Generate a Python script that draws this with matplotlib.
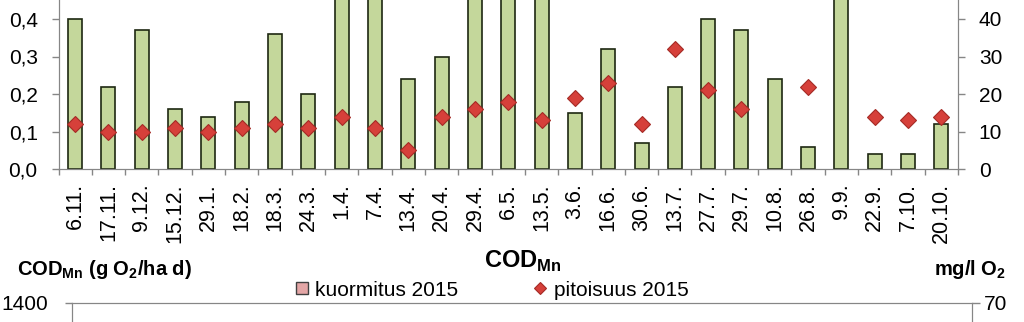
import numpy as np
import matplotlib.pyplot as plt
from matplotlib.lines import Line2D
from matplotlib.ticker import FuncFormatter

plt.rcParams['font.family'] = 'Liberation Sans'
plt.rcParams['mathtext.fontset'] = 'custom'
plt.rcParams['mathtext.rm'] = 'Liberation Sans'
plt.rcParams['mathtext.bf'] = 'Liberation Sans:bold'

# sampling dates 2014-2015
dates = ['6.11.', '17.11.', '9.12.', '15.12.', '29.1.', '18.2.', '18.3.', '24.3.',
         '1.4.', '7.4.', '13.4.', '20.4.', '29.4.', '6.5.', '13.5.', '3.6.',
         '16.6.', '30.6.', '13.7.', '27.7.', '29.7.', '10.8.', '26.8.', '9.9.',
         '22.9.', '7.10.', '20.10.']

# upper panel: load (left axis) and concentration (right axis)
load_upper = [0.40, 0.22, 0.37, 0.16, 0.14, 0.18, 0.36, 0.20,
              0.62, 0.55, 0.24, 0.30, 0.71, 0.83, 0.58, 0.15,
              0.32, 0.07, 0.22, 0.40, 0.37, 0.24, 0.06, 0.66,
              0.04, 0.04, 0.12]
conc_upper = [12, 10, 10, 11, 10, 11, 12, 11,
              14, 11, 5, 14, 16, 18, 13, 19,
              23, 12, 32, 21, 16, np.nan, 22, np.nan,
              14, 13, 14]
upper_left_ticks = [0.0, 0.1, 0.2, 0.3, 0.4]
upper_right_ticks = [0, 10, 20, 30, 40]

# lower panel (COD_Mn), only the top of its scales is shown
lower_left_ticks = [1400]
lower_right_ticks = [70]
legend_labels = ['kuormitus 2015', 'pitoisuus 2015']

GRAY = '#868686'
BAR_GREEN = '#C4D79B'
DIAMOND_RED = '#D6403A'
LOAD_PINK = '#E4A6A6'

W, H = 1024, 322
fig = plt.figure(figsize=(W / 100, H / 100), dpi=100)


def comma(v, pos):
    return f'{v:.1f}'.replace('.', ',')


# upper chart, its top part runs past the figure edge
ax = fig.add_axes([58.5 / W, 1 - 169 / H, 899.5 / W, 187.5 / H])
x = np.arange(len(dates))
ax.bar(x, load_upper, width=0.42, color=BAR_GREEN, edgecolor='#1E2812',
       linewidth=1.2, zorder=2)
ax.set_xlim(-0.5, len(dates) - 0.5)
ax.set_ylim(0, 0.5)
ax.set_yticks(upper_left_ticks)
ax.yaxis.set_major_formatter(FuncFormatter(comma))
ax.set_xticks(x)
ax.set_xticklabels(dates, rotation=90)
ax.set_xticks(np.arange(-0.5, len(dates)), minor=True)
ax.tick_params(axis='x', which='major', length=0, pad=10, labelsize=15.5)
ax.tick_params(axis='x', which='minor', length=4, color=GRAY, width=1)
ax.tick_params(axis='y', length=5, color=GRAY, width=1, pad=10, labelsize=15)
ax.spines['top'].set_visible(False)
for s in ['left', 'bottom', 'right']:
    ax.spines[s].set_color(GRAY)

ax2 = ax.twinx()
ax2.plot(x, conc_upper, ls='none', marker='D', ms=8, mfc=DIAMOND_RED,
         mec='#A52A25', mew=0.8, zorder=3)
ax2.set_ylim(0, 50)
ax2.set_yticks(upper_right_ticks)
ax2.tick_params(axis='y', length=5, color=GRAY, width=1, pad=10, labelsize=15)
ax2.spines['top'].set_visible(False)
for s in ['left', 'bottom', 'right']:
    ax2.spines[s].set_color(GRAY)

# lower chart, only its top edge fits in the figure
bx = fig.add_axes([72 / W, -1.0, 899.5 / W, 1.0 + (1 - 302.7 / H)])
bx.set_ylim(0, 1400)
bx.set_yticks(lower_left_ticks)
bx.set_xticks([])
bx.tick_params(axis='y', length=5, color=GRAY, width=1, pad=12, labelsize=15)
for s in bx.spines.values():
    s.set_color(GRAY)

bx2 = bx.twinx()
bx2.set_ylim(0, 70)
bx2.set_yticks(lower_right_ticks)
bx2.tick_params(axis='y', length=6, color=GRAY, width=1, pad=3, labelsize=15)
for s in bx2.spines.values():
    s.set_color(GRAY)

fig.text(523 / W, 1 - 268 / H, r'COD$_{\mathbf{Mn}}$', ha='center',
         va='baseline', fontsize=17, fontweight='bold')
fig.text(17 / W, 1 - 275 / H, r'COD$_{\mathbf{Mn}}$ (g O$_{\mathbf{2}}$/ha d)',
         ha='left', va='baseline', fontsize=14.5, fontweight='bold')
fig.text(1006 / W, 1 - 275 / H, r'mg/l O$_{\mathbf{2}}$', ha='right',
         va='baseline', fontsize=14.5, fontweight='bold')

handles = [
    Line2D([], [], ls='none', marker='s', ms=8, mfc=LOAD_PINK, mec='#404040', mew=1),
    Line2D([], [], ls='none', marker='D', ms=6.5, mfc=DIAMOND_RED, mec='#A52A25', mew=0.8),
]
fig.legend(handles, legend_labels, loc='center', bbox_to_anchor=(0.48, 1 - 290 / H),
           ncol=2, frameon=False, fontsize=15, handlelength=0.7,
           handletextpad=0.3, columnspacing=3.6, borderpad=0, borderaxespad=0)

fig.savefig('out.png', dpi=100)
